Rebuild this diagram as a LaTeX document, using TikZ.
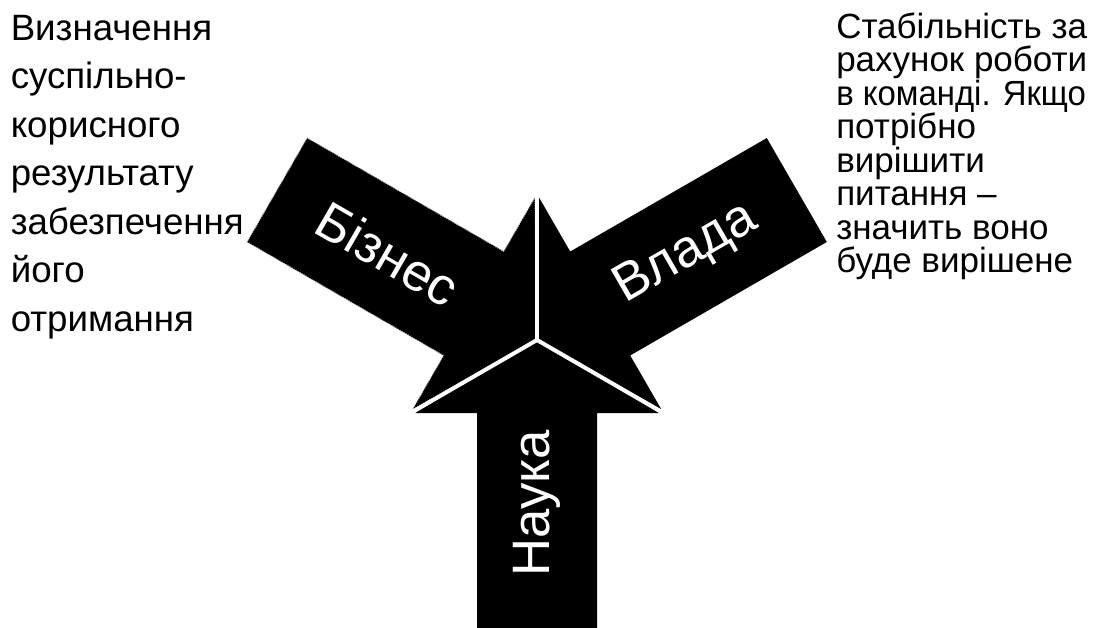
\documentclass[tikz,border=0pt]{standalone}
\usepackage{fontspec}
\setmainfont{Liberation Sans}
\begin{document}
\begin{tikzpicture}[x=0.75pt,y=0.75pt,
  sidetext/.style={anchor=base west,inner sep=0pt,font=\fontsize{27.5}{30}\selectfont},
  righttext/.style={anchor=base west,inner sep=0pt,font=\fontsize{26.25}{30}\selectfont},
  arrowlabel/.style={text=white,inner sep=0pt,font=\fontsize{39.5}{40}\selectfont},
  blockarrow/.style={fill=black},
  dottedrim/.style={draw=white!60!black,densely dotted,line width=0.7pt},
  gap/.style={draw=white,line width=3pt}]
\fill[white] (0,0) rectangle (1099,-628);
\useasboundingbox (0,0) rectangle (1099,-628);
\clip (0,0) rectangle (1099,-628);
\begin{scope}[shift={(537,-340)}]
  \coordinate (C) at (0,0);
  \fill[blockarrow,rotate=270] (0,0) -- (73,122) -- (73,60) -- (300,60) -- (300,-60) -- (73,-60) -- (73,-122) -- cycle;
  \fill[blockarrow,rotate=30] (0,0) -- (73,122) -- (73,60) -- (300,60) -- (300,-60) -- (73,-60) -- (73,-122) -- cycle;
  \filldraw[blockarrow,dottedrim,rotate=150] (0,0) -- (73,122) -- (73,60) -- (300,60) -- (300,-60) -- (73,-60) -- (73,-122) -- cycle;
  \coordinate (G1) at (90:145);
  \coordinate (G2) at (210:150);
  \coordinate (G3) at (330:150);
  \draw[gap] (C) -- (G1);
  \draw[gap] (C) -- (G2);
  \draw[gap] (C) -- (G3);
  \node[arrowlabel,rotate=-30] (tb) at (150:172) {Бізнес};
  \node[arrowlabel,rotate=30] (tv) at (30:172) {Влада};
  \node[arrowlabel,rotate=90] (tn) at (270:163) {Наука};
\end{scope}
\foreach \t [count=\i from 0] in {Визначення,суспільно-,корисного,результату,забезпечення,його,отримання}
  \node[sidetext] (l\i) at (10.5,{-40-48.5*\i}) {\t};
\foreach \t [count=\i from 0] in {Стабільність за,рахунок роботи,,потрібно,вирішити,питання –,значить воно,буде вирішене}
  \node[righttext] (r\i) at (836,{-38-33.5*\i}) {\t};
\node[righttext,xscale=0.94] (r2b) at (836,{-38-33.5*2}) {в команді. Якщо};
\end{tikzpicture}
\end{document}
